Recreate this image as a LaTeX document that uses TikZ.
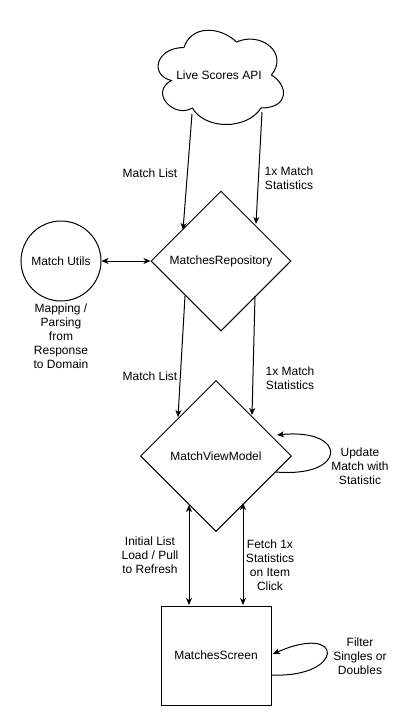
\documentclass[tikz,border=0pt]{standalone}
\usepackage{fontspec}
\setmainfont{Liberation Sans}
\usetikzlibrary{arrows.meta,shapes.geometric}
\begin{document}
\begin{tikzpicture}[x=1pt,y=-1pt,
  every node/.style={font=\fontsize{12}{14}\selectfont, text=black},
  lbl/.style={align=center, inner sep=0pt},
  tip/.style={Stealth[length=7pt,width=6pt,inset=2pt]},
  arr/.style={draw=black, line width=1pt, -{Stealth[length=7pt,width=6pt,inset=2pt]}},
  darr/.style={draw=black, line width=1pt, {Stealth[length=7pt,width=6pt,inset=2pt]}-{Stealth[length=7pt,width=6pt,inset=2pt]}},
  dia/.style={diamond, draw=black, line width=1pt, inner sep=0pt, aspect=1},
]
\fill[white] (0,0) rectangle (411,726);
\useasboundingbox (0,0) rectangle (411,726);

% cloud
\draw[line width=1pt] (184,47.5)
  .. controls (156,47.5) and (149,75) .. (171.4,80.5)
  .. controls (149,92.6) and (174.2,119) .. (192.4,108)
  .. controls (205,130) and (247,130) .. (261,108)
  .. controls (289,108) and (289,86) .. (271.5,75)
  .. controls (289,53) and (261,31) .. (236.5,42)
  .. controls (219,25.5) and (191,25.5) .. (184,47.5) -- cycle;
\node[lbl] (api) at (219,75) {Live Scores API};

\node[dia, minimum width=140pt, minimum height=140pt] (repo) at (221,261) {MatchesRepository};
\node[circle, draw=black, line width=1pt, minimum size=80pt, inner sep=0pt] (utils) at (61,261) {Match Utils};
\node[dia, minimum width=151pt, minimum height=151pt] (vm) at (216,456) {MatchViewModel};
\node[rectangle, draw=black, line width=1pt, minimum width=110pt, minimum height=99pt, inner sep=0pt] (screen) at (216,655.5) {MatchesScreen};

% connector end points
\coordinate (a1) at (192,114);
\coordinate (a2) at (183,230);
\coordinate (b1) at (262,112);
\coordinate (b2) at (256,224);
\coordinate (c1) at (185,296);
\coordinate (c2) at (178,417);
\coordinate (d1) at (255,296);
\coordinate (d2) at (252,415);
\coordinate (e1) at (189,505);
\coordinate (e2) at (189,605);
\coordinate (f1) at (243,503);
\coordinate (f2) at (243,605);
\coordinate (g1) at (276,472);
\coordinate (g2) at (277,435);
\coordinate (h1) at (272,675);
\coordinate (h2) at (273,654);

\draw[arr] (a1) -- (a2);
\draw[arr] (b1) -- (b2);
\draw[darr] (utils.east) -- (repo.west);
\draw[arr] (c1) -- (c2);
\draw[arr] (d1) -- (d2);
\draw[darr] (e1) -- (e2);
\draw[darr] (f1) -- (f2);
\draw[arr] (g1) .. controls (348,478) and (348,428) .. (g2);
\draw[arr] (h1) .. controls (345,678) and (345,622) .. (h2);

% labels
\node[lbl] (l1) at (150,173) {Match List};
\node[lbl] (l2) at (289,178) {1x Match\\Statistics};
\node[lbl] (l3) at (61,336) {Mapping /\\Parsing\\from\\Response\\to Domain};
\node[lbl] (l4) at (150,376) {Match List};
\node[lbl] (l5) at (290,378) {1x Match\\Statistics};
\node[lbl] (l6) at (360,466) {Update\\Match with\\Statistic};
\node[lbl] (l7) at (150,555) {Initial List\\Load / Pull\\to Refresh};
\node[lbl] (l8) at (270,565) {Fetch 1x\\Statistics\\on Item\\Click};
\node[lbl] (l9) at (360,656) {Filter\\Singles or\\Doubles};
\end{tikzpicture}
\end{document}
